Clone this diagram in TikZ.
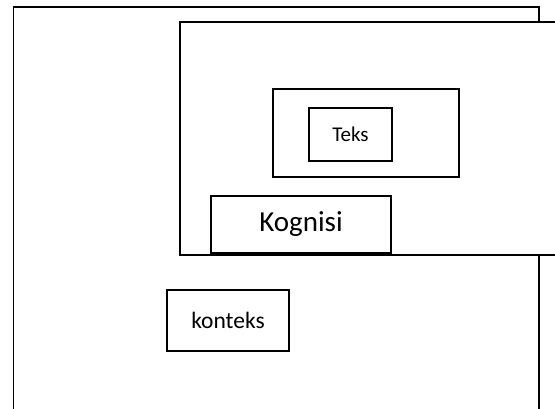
\documentclass[tikz,border=0pt]{standalone}
\usepackage{fontspec}
\setmainfont{Carlito}
\begin{document}
\begin{tikzpicture}[x=1pt,y=-1pt,
  frame/.style={draw=black,line width=1.6pt,fill=white,rectangle,inner sep=0pt,outer sep=0pt},
  txt/.style={font=\fontsize{#1}{#1}\selectfont}]
\fill[white] (0,0) rectangle (555,408);
\useasboundingbox (0,0) rectangle (555,408);
% outer context frame (runs past the lower edge)
\coordinate (outerNW) at (13.5,7);
\coordinate (outerSE) at (539,420);
\filldraw[draw=black,fill=white,line width=1.6pt] (outerNW) rectangle (outerSE);
% cognition frame (runs past the right edge)
\coordinate (cogNW) at (180,22);
\coordinate (cogSE) at (570,255);
\filldraw[draw=black,fill=white,line width=1.6pt] (cogNW) rectangle (cogSE);
% frame around the text box
\node[frame,minimum width=186pt,minimum height=88pt] (inner) at (366,133) {};
\node[frame,minimum width=83pt,minimum height=53pt,txt=21] (teks) at (350.5,134.5) {Teks};
\node[frame,minimum width=180pt,minimum height=57pt,txt=29] (kognisi) at (301,224.5) {Kognisi};
\node[frame,minimum width=122pt,minimum height=61pt,txt=23.5] (konteks) at (228,320.5) {konteks};
\end{tikzpicture}
\end{document}
